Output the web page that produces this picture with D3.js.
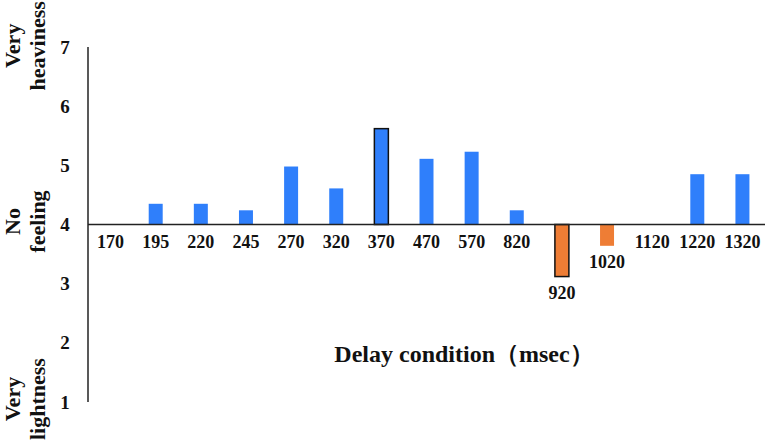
<!DOCTYPE html>
<html><head><meta charset="utf-8">
<script src="https://cdn.jsdelivr.net/npm/d3@7"></script>
<style>body{margin:0;background:#fff}svg{display:block}text{font-family:"Liberation Serif","Times New Roman",serif;font-weight:bold;fill:#111}</style>
</head><body>
<script>
const categories = ["170","195","220","245","270","320","370","470","570","820","920","1020","1120","1220","1320"];
const values = [4, 4.35, 4.35, 4.24, 4.98, 4.61, 5.62, 5.11, 5.23, 4.24, 3.12, 3.64, 4, 4.85, 4.85];
const outlined = ["370","920"];
const yTicks = [1,2,3,4,5,6,7];
const sideLabels = [{v:7.02, lines:["Very","heaviness"]},{v:4.05, lines:["No","feeling"]},{v:1.05, lines:["Very","lightness"]}];
const xTitle = "Delay condition（msec）";

const W=767,H=447;
const svg=d3.select("body").append("svg").attr("width",W).attr("height",H);
const x=d3.scaleBand().domain(categories).range([88,765]).paddingInner(0.69).paddingOuter(0.345);
const y=d3.scaleLinear().domain([1,7]).range([402,47]);
const base=4;

svg.selectAll("rect.bar").data(categories.map((c,i)=>({c,v:values[i]})).filter(d=>d.v!==base))
 .enter().append("rect")
 .attr("x",d=>x(d.c)).attr("width",x.bandwidth())
 .attr("y",d=>y(Math.max(d.v,base))).attr("height",d=>Math.abs(y(d.v)-y(base)))
 .attr("fill",d=>d.v>base?"#2F7FFB":"#EE7D35")
 .attr("stroke",d=>outlined.includes(d.c)?"#111":"none").attr("stroke-width",1.5);

// axes
svg.append("line").attr("x1",88).attr("x2",88).attr("y1",y(7)).attr("y2",y(1)).attr("stroke","#222").attr("stroke-width",1.5);
svg.append("line").attr("x1",88).attr("x2",765).attr("y1",y(base)).attr("y2",y(base)).attr("stroke","#222").attr("stroke-width",1.5);

svg.selectAll("text.yt").data(yTicks).enter().append("text")
 .attr("x",65).attr("y",d=>y(d)).attr("dy","0.35em").attr("text-anchor","middle")
 .style("font-size","19px").text(d=>d);

categories.forEach((c,i)=>{
  const v=values[i];
  const ty = v<base ? y(v)+16 : y(base)+17;
  svg.append("text").attr("x",x(c)+x.bandwidth()/2).attr("y",ty).attr("dy","0.35em")
   .attr("text-anchor","middle").style("font-size","18px").text(c);
});

sideLabels.forEach(s=>{
  const g=svg.append("g").attr("transform",`translate(0,${y(s.v)})`);
  s.lines.forEach((t,j)=>{
    g.append("text").attr("transform",`translate(${12+j*25},0) rotate(-90)`)
     .attr("text-anchor","middle").attr("dy","0.35em").style("font-size","22px").text(t);
  });
});

svg.append("text").attr("x",464).attr("y",362).attr("text-anchor","middle")
 .style("font-size","24px").text(xTitle);
</script>
</body></html>
